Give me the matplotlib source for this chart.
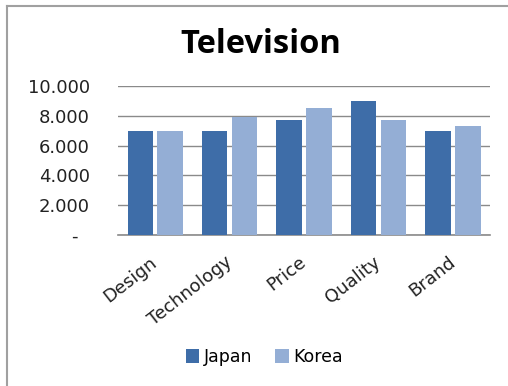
import numpy as np
import matplotlib
matplotlib.use("Agg")
import matplotlib.pyplot as plt
import matplotlib.transforms as mtransforms
from matplotlib.lines import Line2D

# data
categories = ["Design", "Technology", "Price", "Quality", "Brand"]
japan = [7.0, 7.0, 7.7, 9.0, 7.0]
korea = [7.0, 7.9, 8.5, 7.7, 7.3]
yticks = [0, 2, 4, 6, 8, 10]
ytick_labels = ["-  ", "2.000", "4.000", "6.000", "8.000", "10.000"]

c_japan = "#3E6DA8"
c_korea = "#94AED5"

fig = plt.figure(figsize=(5.08, 3.86), dpi=100, facecolor="white")
ax = fig.add_axes([0.232, 0.391, 0.733, 0.386])

x = np.arange(len(categories))
w = 0.34
ax.bar(x - 0.2, japan, w, color=c_japan, label="Japan", zorder=3)
ax.bar(x + 0.2, korea, w, color=c_korea, label="Korea", zorder=3)

ax.set_xlim(-0.5, len(categories) - 0.5)
ax.set_ylim(0, 10)
ax.set_yticks(yticks)
ax.set_yticklabels(ytick_labels, fontsize=13, color="#222222")
ax.set_xticks(x)
ax.set_xticklabels(categories, rotation=38, ha="right", rotation_mode="anchor",
                   fontsize=13, color="#222222")
ax.tick_params(axis="x", length=0, pad=13)
ax.tick_params(axis="y", length=0, pad=20)

# nudge the slanted labels a little to the left
shift = mtransforms.ScaledTranslation(-4 / 72, 0, fig.dpi_scale_trans)
for lab in ax.get_xticklabels():
    lab.set_transform(lab.get_transform() + shift)

ax.grid(axis="y", color="#8a8a8a", linewidth=1.0, zorder=0)
for s in ["top", "right", "left"]:
    ax.spines[s].set_visible(False)
ax.spines["bottom"].set_color("#8a8a8a")
ax.spines["bottom"].set_linewidth(1.2)

fig.text(0.514, 0.884, "Television", ha="center", va="center",
         fontsize=23.5, fontweight="bold", family=["Open Sans", "DejaVu Sans"])

fig.legend(loc="center", bbox_to_anchor=(0.52, 0.075), ncol=2, frameon=False,
           fontsize=12.5, handlelength=0.8, handleheight=0.8, handletextpad=0.25,
           columnspacing=1.3)

# outer frame (only top and left edges visible in the original)
fig.add_artist(Line2D([0.013, 1.0], [0.984, 0.984], color="#a0a0a0", linewidth=1.5))
fig.add_artist(Line2D([0.013, 0.013], [0.0, 0.984], color="#a0a0a0", linewidth=1.5))

fig.savefig("out.png", dpi=100)
